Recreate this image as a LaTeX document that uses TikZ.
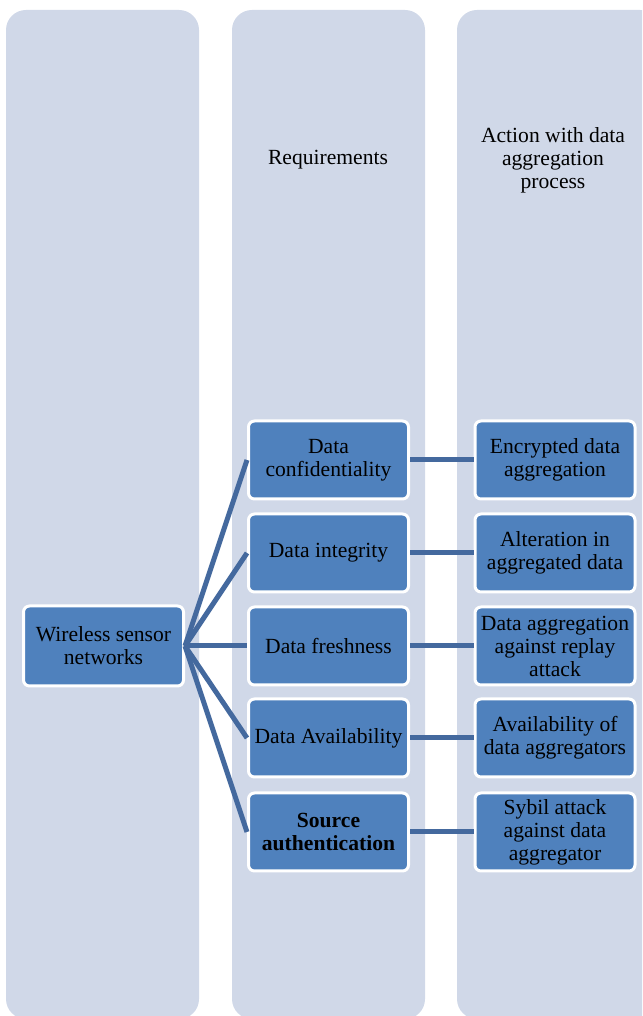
\documentclass[tikz,border=0pt]{standalone}
\usepackage{fontspec}
\setmainfont{Liberation Serif}
\usepackage{tikz}
\usetikzlibrary{
  positioning,   % 节点相对定位
  calc           % 坐标计算
}
\definecolor{laneblue}{HTML}{D0D8E8}
\definecolor{boxblue}{HTML}{4F81BD}
\definecolor{linkblue}{HTML}{44699E}

\tikzset{
  lane/.style={fill=laneblue, rounded corners=10pt},
  item/.style={draw=white, line width=1.5pt, fill=boxblue, rounded corners=3pt,
    minimum width=80pt, minimum height=39pt, align=center,
    inner sep=1pt, font=\fontsize{10.8}{11.5}\selectfont},
  head/.style={align=center, font=\fontsize{10.8}{11.5}\selectfont},
  link/.style={linkblue, line width=2.5pt}
}

\begin{document}
\begin{tikzpicture}[x=0.5pt, y=0.5pt]
  \useasboundingbox (0,0) rectangle (642,1016);
  \clip (0,0) rectangle (642,1016);

  % 三条背景栏
  \fill[lane] (6,-3) rectangle (199,1006);
  \fill[lane] (232,-3) rectangle (425,1006);
  \fill[lane] (457,-3) rectangle (660,1006);

  % 栏标题
  \node[head] (hreq) at (328,856) {Requirements};
  \node[head] (hact) at (553,856) {Action with data\\aggregation\\process};

  % 左侧根节点
  \node[item, minimum height=40pt] (wsn) at (103.5,370) {Wireless sensor\\networks};

  % 中间：需求
  \node[item] (conf)  at (328.5,556) {Data\\confidentiality};
  \node[item] (integ) at (328.5,463) {Data integrity};
  \node[item] (fresh) at (328.5,370) {Data freshness};
  \node[item] (avail) at (328.5,278) {Data Availability};
  \node[item] (auth)  at (328.5,184) {\textbf{Source}\\\textbf{authentication}};

  % 右侧：聚合过程中的对应措施
  \node[item] (enc)   at (555,556) {Encrypted data\\aggregation};
  \node[item] (alter) at (555,463) {Alteration in\\aggregated data};
  \node[item] (replay) at (555,370) {Data aggregation\\against replay\\attack};
  \node[item] (aggav) at (555,278) {Availability of\\data aggregators};
  \node[item] (sybil) at (555,184) {Sybil attack\\against data\\aggregator};

  % 根节点到需求的连线
  \draw[link] (wsn.east) -- (conf.west);
  \draw[link] (wsn.east) -- (integ.west);
  \draw[link] (wsn.east) -- (fresh.west);
  \draw[link] (wsn.east) -- (avail.west);
  \draw[link] (wsn.east) -- (auth.west);

  % 需求到措施的连线
  \draw[link] (conf.east) -- (enc.west);
  \draw[link] (integ.east) -- (alter.west);
  \draw[link] (fresh.east) -- (replay.west);
  \draw[link] (avail.east) -- (aggav.west);
  \draw[link] (auth.east) -- (sybil.west);
\end{tikzpicture}
\end{document}
